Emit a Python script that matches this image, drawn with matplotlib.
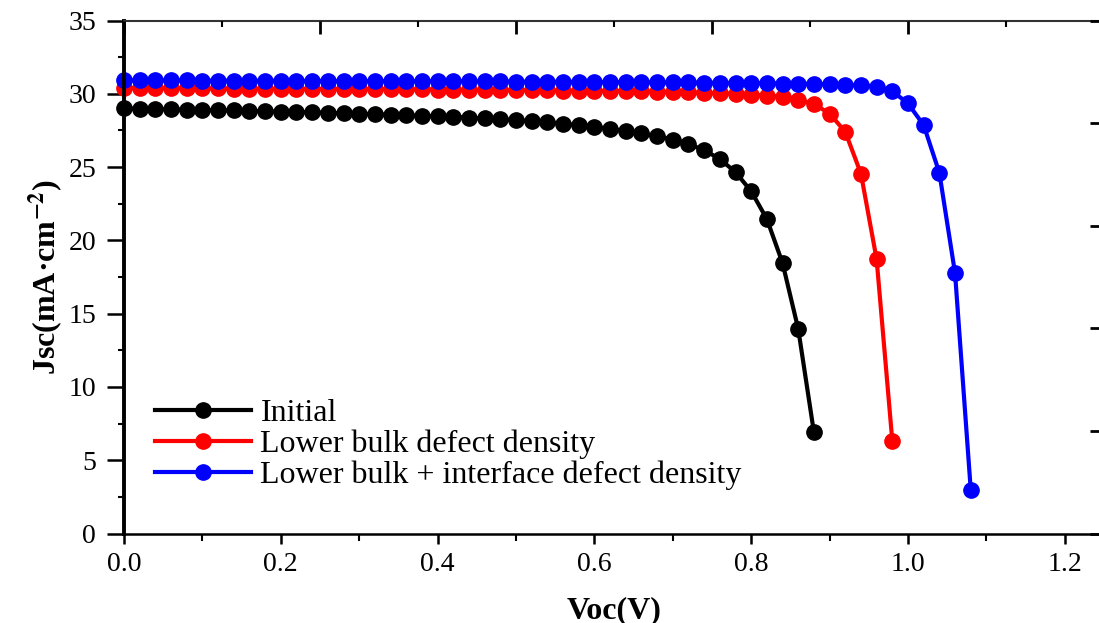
import matplotlib
matplotlib.use("Agg")
import matplotlib.pyplot as plt
from matplotlib.ticker import MultipleLocator, NullFormatter

plt.rcParams['font.family'] = ['Liberation Serif', 'DejaVu Serif']
plt.rcParams['mathtext.fontset'] = 'stix'

voltage = [0.00, 0.02, 0.04, 0.06, 0.08, 0.10, 0.12, 0.14, 0.16, 0.18,
           0.20, 0.22, 0.24, 0.26, 0.28, 0.30, 0.32, 0.34, 0.36, 0.38,
           0.40, 0.42, 0.44, 0.46, 0.48, 0.50, 0.52, 0.54, 0.56, 0.58,
           0.60, 0.62, 0.64, 0.66, 0.68, 0.70, 0.72, 0.74, 0.76, 0.78,
           0.80, 0.82, 0.84, 0.86, 0.88, 0.90, 0.92, 0.94, 0.96, 0.98,
           1.00, 1.02, 1.04, 1.06, 1.08]

initial = [29.00, 28.98, 28.96, 28.94, 28.92, 28.90, 28.88, 28.86, 28.83, 28.81,
           28.78, 28.76, 28.73, 28.70, 28.67, 28.64, 28.61, 28.57, 28.54, 28.50,
           28.46, 28.42, 28.37, 28.32, 28.26, 28.20, 28.13, 28.05, 27.96, 27.86,
           27.74, 27.60, 27.46, 27.30, 27.10, 26.88, 26.58, 26.15, 25.55, 24.65,
           23.35, 21.45, 18.45, 13.95, 6.90]

lower_bulk = [30.40, 30.39, 30.39, 30.38, 30.38, 30.37, 30.37, 30.36, 30.36, 30.35,
              30.35, 30.34, 30.34, 30.33, 30.33, 30.32, 30.32, 30.31, 30.30, 30.30,
              30.29, 30.28, 30.28, 30.27, 30.26, 30.25, 30.24, 30.23, 30.22, 30.21,
              30.20, 30.19, 30.17, 30.16, 30.14, 30.12, 30.10, 30.07, 30.04, 30.00,
              29.95, 29.88, 29.80, 29.60, 29.30, 28.65, 27.40, 24.55, 18.70, 6.30]

lower_bulk_interface = [30.92, 30.92, 30.91, 30.91, 30.91, 30.90, 30.90, 30.90, 30.89, 30.89,
                        30.89, 30.88, 30.88, 30.88, 30.87, 30.87, 30.87, 30.86, 30.86, 30.86,
                        30.85, 30.85, 30.85, 30.84, 30.84, 30.83, 30.83, 30.82, 30.82, 30.81,
                        30.81, 30.80, 30.80, 30.79, 30.78, 30.78, 30.77, 30.76, 30.75, 30.74,
                        30.73, 30.72, 30.70, 30.69, 30.67, 30.65, 30.62, 30.58, 30.48, 30.18,
                        29.34, 27.86, 24.61, 17.76, 3.00]

series = [
    ("Initial", initial, "#000000"),
    ("Lower bulk defect density", lower_bulk, "#ff0000"),
    ("Lower bulk + interface defect density", lower_bulk_interface, "#0000ff"),
]

W, H = 1099, 623
fig = plt.figure(figsize=(W / 100, H / 100), dpi=100)
left, right, bottom, top = 124 / W, 1104 / W, (H - 533.5) / H, (H - 20.5) / H
ax = fig.add_axes([left, bottom, right - left, top - bottom])

for name, vals, col in series:
    ax.plot(voltage[:len(vals)], vals, color=col, lw=3, marker='o', ms=11,
            label=name, clip_on=False)

ax.set_xlim(0, 1.25)
ax.set_ylim(0, 35)
ax.xaxis.set_major_locator(MultipleLocator(0.2))
ax.xaxis.set_minor_locator(MultipleLocator(0.1))
ax.yaxis.set_major_locator(MultipleLocator(5))
ax.yaxis.set_minor_locator(MultipleLocator(2.5))
ax.xaxis.set_major_formatter(plt.FuncFormatter(lambda v, p: f"{v:.1f}"))
ax.tick_params(axis='y', which='major', direction='out', length=12, width=1.8,
               labelsize=20, pad=8)
ax.tick_params(axis='y', which='minor', direction='out', length=4.5, width=1.5)
ax.tick_params(axis='x', which='major', direction='out', length=7, width=1.8,
               labelsize=20, pad=6)
ax.tick_params(axis='x', which='minor', direction='out', length=5, width=1.5)
ax.tick_params(top=False, right=False)

ax.spines['left'].set_linewidth(2.8)
ax.spines['bottom'].set_linewidth(1.8)
ax.spines['top'].set_linewidth(1.5)
ax.spines['top'].set_color('#333333')
ax.spines['right'].set_linewidth(1.5)

ax.set_xlabel("Voc(V)", fontsize=23, fontweight='bold', labelpad=14)
ax.set_ylabel(r"Jsc(mA·cm$^{\mathbf{-2}}$)", fontsize=23, fontweight='bold', labelpad=2)

# secondary scales on the top and right frame
axt = ax.twiny()
axt.set_xlim(0, 1.25)
axt.xaxis.set_major_locator(MultipleLocator(0.25))
axt.xaxis.set_minor_locator(MultipleLocator(0.125))
axt.xaxis.set_major_formatter(NullFormatter())
axt.tick_params(which='major', direction='in', length=9, width=2)
axt.tick_params(which='minor', direction='in', length=4, width=1.5)
axr = ax.twinx()
axr.set_ylim(0, 35)
axr.yaxis.set_major_locator(MultipleLocator(7))
axr.yaxis.set_minor_locator(MultipleLocator(3.5))
axr.yaxis.set_major_formatter(NullFormatter())
axr.tick_params(which='major', direction='in', length=10, width=2)
axr.tick_params(which='minor', direction='in', length=3, width=1.5)
for a in (axt, axr):
    for s in a.spines.values():
        s.set_visible(False)

leg = ax.legend(loc='lower left', bbox_to_anchor=(0.0316, 0.085), frameon=False,
                fontsize=23, handlelength=3.0, handletextpad=0.3, labelspacing=0.05,
                borderaxespad=0, borderpad=0)

fig.savefig("out.png", dpi=100)
